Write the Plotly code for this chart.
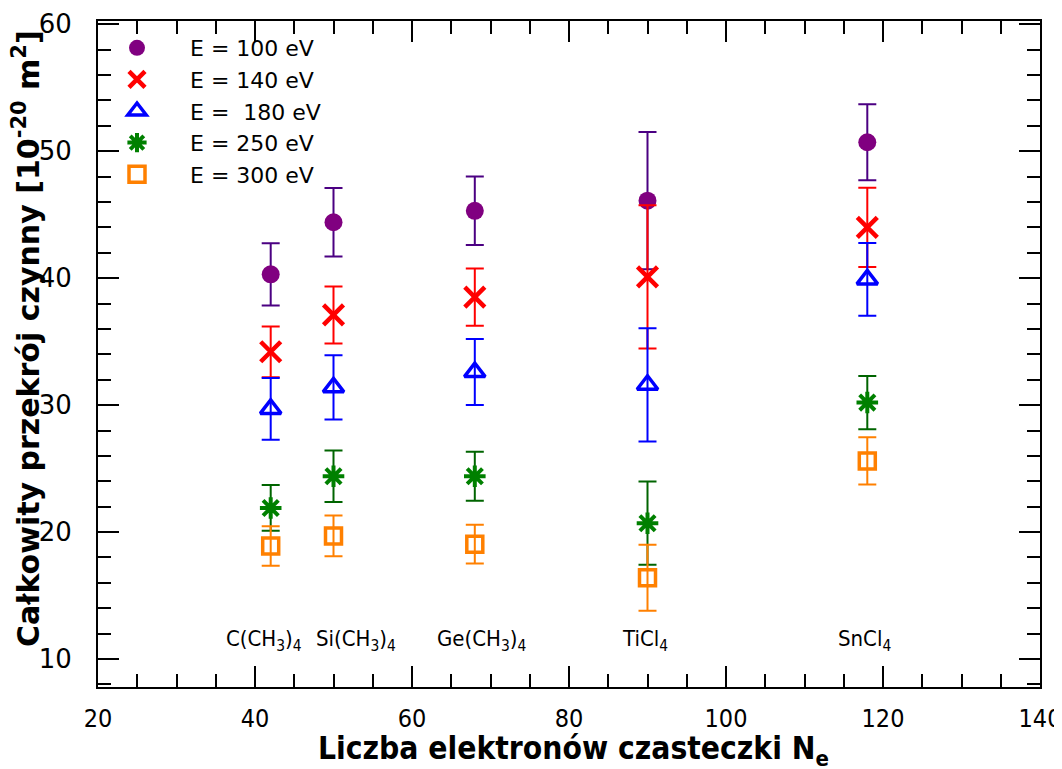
import plotly.graph_objects as go

# Number of electrons in each molecule
ne = [42, 50, 68, 90, 118]
molecules = ["C(CH<sub>3</sub>)<sub>4</sub>", "Si(CH<sub>3</sub>)<sub>4</sub>",
             "Ge(CH<sub>3</sub>)<sub>4</sub>", "TiCl<sub>4</sub>", "SnCl<sub>4</sub>"]
label_x = [41.1, 52.9, 68.9, 89.7, 117.7]

sigma_100 = [40.3, 44.4, 45.3, 46.1, 50.7]
err_100 = [2.45, 2.7, 2.7, 5.4, 3.0]
sigma_140 = [34.2, 37.1, 38.5, 40.1, 44.0]
err_140 = [2.0, 2.25, 2.25, 5.64, 3.12]
sigma_180 = [29.7, 31.4, 32.6, 31.6, 39.9]
err_180 = [2.43, 2.53, 2.6, 4.46, 2.87]
sigma_250 = [21.9, 24.4, 24.4, 20.7, 30.2]
err_250 = [1.8, 2.03, 1.93, 3.28, 2.1]
sigma_300 = [18.9, 19.7, 19.05, 16.4, 25.6]
err_300 = [1.55, 1.6, 1.52, 2.6, 1.86]

series = [
    ("E = 100 eV", sigma_100, err_100, "#800080", "#4B0082", "circle", 18, 0),
    ("E = 140 eV", sigma_140, err_140, "#FF0000", "#FF0000", "x-thin-open", 20, 4.5),
    ("E =  180 eV", sigma_180, err_180, "#0000FF", "#0000FF", "triangle-up-open", 18, 3.5),
    ("E = 250 eV", sigma_250, err_250, "#008000", "#006400", "asterisk-open", 18, 4),
    ("E = 300 eV", sigma_300, err_300, "#FF8000", "#FF8000", "square-open", 16, 3.5),
]

fig = go.Figure()
for name, ys, es, col, ecol, sym, size, lw in series:
    fig.add_trace(go.Scatter(
        x=ne, y=ys, mode="markers", name=name, showlegend=False,
        marker=dict(symbol=sym, size=size, color=col, line=dict(color=col, width=lw)),
        error_y=dict(type="data", array=es, visible=True, color=ecol, thickness=2, width=9),
    ))
for name, ys, es, col, ecol, sym, size, lw in series:
    fig.add_trace(go.Scatter(
        x=[None], y=[None], mode="markers",
        name="\u00a0\u00a0" + name.replace(" ", "\u00a0"), showlegend=True,
        marker=dict(symbol=sym, size=size, color=col, line=dict(color=col, width=lw)),
    ))

for lx, lab in zip(label_x, molecules):
    fig.add_annotation(x=lx, y=11.5, text=lab, showarrow=False,
                       font=dict(family="DejaVu Sans Condensed", size=22, color="black"))

# axis titles
fig.add_annotation(xref="paper", yref="paper", x=0.505, y=-0.095,
                   xanchor="center", yanchor="middle", showarrow=False,
                   text="<b>Liczba elektronów czasteczki N<sub>e</sub></b>",
                   font=dict(family="DejaVu Sans Condensed", size=31.5, color="black"))
fig.add_annotation(xref="paper", yref="paper", x=-0.0765, y=0.524,
                   xanchor="center", yanchor="middle", showarrow=False, textangle=-90,
                   text="<b>Całkowity przekrój czynny [10<sup>-20</sup> m<sup>2</sup>]</b>",
                   font=dict(family="DejaVu Sans", size=30, color="black"))

fig.update_xaxes(
    range=[20, 140], dtick=20, tick0=20, automargin=False,
    ticks="inside", ticklen=21, tickwidth=1.5, tickcolor="black",
    minor=dict(dtick=5, ticks="inside", ticklen=13, tickwidth=1.5, tickcolor="black"),
    showline=True, linewidth=2, linecolor="black", mirror="ticks",
    showgrid=False, zeroline=False,
    tickfont=dict(family="DejaVu Sans Condensed", size=25, color="black"),
    ticklabelstandoff=8,
)
fig.update_yaxes(
    range=[7.8, 60.25], dtick=10, tick0=0, automargin=False,
    ticks="inside", ticklen=21, tickwidth=1.5, tickcolor="black",
    minor=dict(dtick=2, ticks="inside", ticklen=13, tickwidth=1.5, tickcolor="black"),
    showline=True, linewidth=2, linecolor="black", mirror="ticks",
    showgrid=False, zeroline=False,
    tickfont=dict(family="DejaVu Sans", size=26, color="black"),
    ticklabelstandoff=19,
)

fig.update_layout(
    width=1062, height=769,
    margin=dict(l=90, r=30, t=13, b=90),
    plot_bgcolor="white", paper_bgcolor="white",
    legend=dict(x=0, y=0.991, xanchor="left", yanchor="top",
                bgcolor="rgba(0,0,0,0)", borderwidth=0, itemwidth=68,
                tracegroupgap=0,
                font=dict(family="DejaVu Sans", size=22, color="black")),
)

fig.write_html("out.html")
